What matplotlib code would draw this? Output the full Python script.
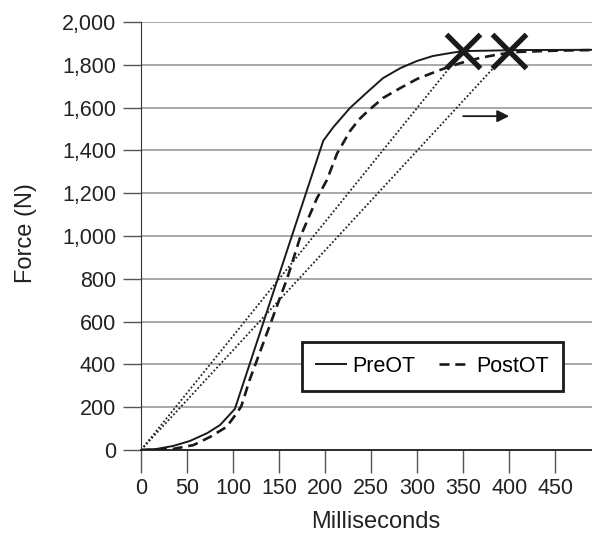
import matplotlib
matplotlib.use("Agg")
import matplotlib.pyplot as plt
from matplotlib.ticker import FuncFormatter

plt.rcParams['font.family'] = ['Liberation Sans', 'DejaVu Sans']

pre_x = [0, 17, 35, 53, 72, 86, 102, 198, 209, 227, 246, 263, 282, 300, 317, 336, 350, 412, 490]
pre_y = [0, 5, 19, 42, 79, 117, 192, 1445, 1509, 1598, 1673, 1738, 1785, 1818, 1841, 1855, 1864, 1869, 1870]

post_x = [0, 35, 57, 75, 93, 105, 109, 118, 159, 173, 191, 202, 213, 227, 237, 246, 263, 282, 300, 325, 347, 368, 390, 409, 450, 490]
post_y = [0, 5, 23, 61, 108, 178, 205, 327, 804, 995, 1175, 1262, 1385, 1490, 1545, 1582, 1645, 1692, 1734, 1776, 1808, 1832, 1850, 1860, 1866, 1869]

peak_x = [350, 400]
peak_y = [1865, 1865]

arrow_x = [350, 400]
arrow_y = 1560

xticks = [0, 50, 100, 150, 200, 250, 300, 350, 400, 450]
yticks = [0, 200, 400, 600, 800, 1000, 1200, 1400, 1600, 1800, 2000]

FS = 15.5
LFS = 17
fig = plt.figure(figsize=(5.92, 5.33), dpi=100)
ax = fig.add_axes([141 / 592, 1 - 450 / 533, 451 / 592, 428 / 533])

for yv in yticks[1:]:
    ax.axhline(yv, color='#9a9a9a', lw=1.2, zorder=1)

for px, py in zip(peak_x, peak_y):
    ax.plot([0, px], [0, py], color='#222222', lw=1.3, linestyle=(0, (1, 1.2)), zorder=2)

ax.plot(pre_x, pre_y, color='#1a1a1a', lw=1.4, label='PreOT', zorder=3)
ax.plot(post_x, post_y, color='#1a1a1a', lw=1.9, linestyle=(0, (3.8, 2.2)), label='PostOT', zorder=3)

ax.plot(peak_x, peak_y, linestyle='none', marker='x', markersize=24, markeredgewidth=3.8,
        color='#1a1a1a', zorder=4)

ax.annotate('', xy=(arrow_x[1], arrow_y), xytext=(arrow_x[0], arrow_y),
            arrowprops=dict(arrowstyle='-|>', color='#1a1a1a', lw=1.3,
                            mutation_scale=18, shrinkA=0, shrinkB=0), zorder=5)

ax.set_xlim(0, 490)
ax.set_ylim(0, 2000)
ax.set_xticks(xticks)
ax.set_yticks(yticks)
ax.yaxis.set_major_formatter(FuncFormatter(lambda v, p: f"{int(v):,}"))

for s in ['top', 'right']:
    ax.spines[s].set_visible(False)
ax.spines['left'].set_color('#333333')
ax.spines['bottom'].set_color('#1a1a1a')
ax.spines['bottom'].set_linewidth(1.3)

ax.tick_params(axis='x', length=16.5, width=1, color='#555555', labelsize=FS, pad=4, labelcolor='#222222')
ax.tick_params(axis='y', length=13, width=1, color='#555555', labelsize=FS, pad=5, labelcolor='#222222')

ax.set_xlabel('Milliseconds', fontsize=LFS, color='#222222')
ax.set_ylabel('Force (N)', fontsize=LFS, color='#222222')
ax.xaxis.set_label_coords((376 - 141) / 451, (450 - 511) / 428)
ax.yaxis.set_label_coords((37 - 141) / 451, (450 - 233) / 428)

leg = ax.legend(loc='lower left', bbox_to_anchor=(0.357, 0.138), borderaxespad=0, ncol=2, fontsize=FS,
                frameon=True, fancybox=False, handlelength=1.4, handletextpad=0.3,
                columnspacing=1.1, borderpad=0.65)
leg.get_frame().set_edgecolor('#1a1a1a')
leg.get_frame().set_linewidth(2.0)
leg.get_frame().set_alpha(1)

fig.savefig('out.png', dpi=100)
